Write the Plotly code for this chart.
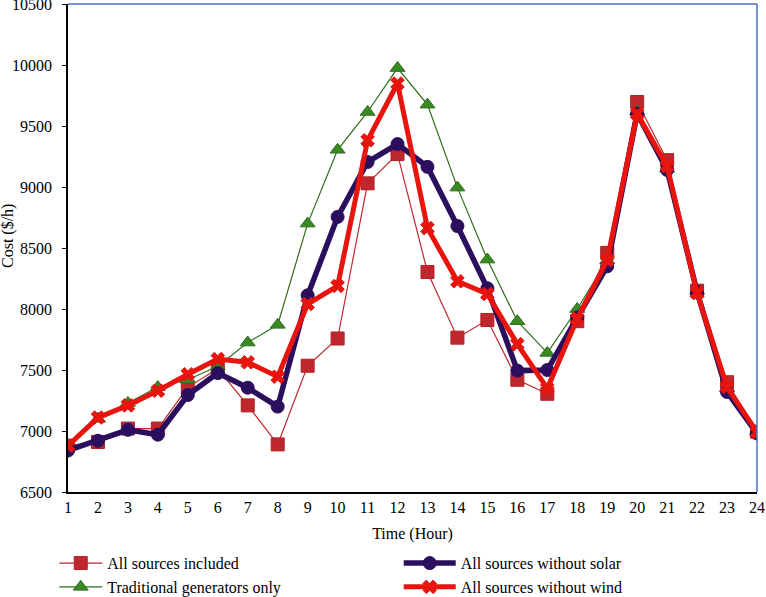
import plotly.graph_objects as go

hours = list(range(1, 25))
all_included = [6880, 6910, 7020, 7020, 7360, 7510, 7210, 6890, 7535, 7758, 9030, 9270, 8303, 7765, 7910, 7420, 7305, 7900, 8460, 9697, 9220, 8150, 7400, 6995]
traditional = [6880, 7100, 7230, 7360, 7420, 7530, 7725, 7870, 8700, 9305, 9615, 9975, 9675, 8995, 8405, 7900, 7640, 8000, 8400, 9620, 9150, 8150, 7350, 7000]
without_solar = [6840, 6920, 7010, 6970, 7295, 7475, 7355, 7200, 8112, 8755, 9205, 9352, 9165, 8680, 8170, 7495, 7500, 7930, 8350, 9600, 9140, 8140, 7320, 6980]
without_wind = [6880, 7110, 7210, 7330, 7465, 7590, 7563, 7445, 8041, 8189, 9383, 9848, 8663, 8227, 8123, 7712, 7350, 7920, 8400, 9600, 9170, 8130, 7360, 6990]
y_ticks = [6500, 7000, 7500, 8000, 8500, 9000, 9500, 10000, 10500]

FONT = "Liberation Serif"
FS = 16

fig = go.Figure()
fig.add_trace(go.Scatter(
    x=hours, y=all_included, name="All sources included", mode="lines+markers",
    line=dict(color="#C0272D", width=1.2),
    marker=dict(symbol="square", size=13, color="#C0272D", line=dict(color="#B02025", width=1)),
    legend="legend"))
fig.add_trace(go.Scatter(
    x=hours, y=traditional, name="Traditional generators only", mode="lines+markers",
    line=dict(color="#2F6B1E", width=1.2),
    marker=dict(symbol="triangle-up", size=13, color="#3A8A24", line=dict(color="#2F6B1E", width=1)),
    legend="legend"))
fig.add_trace(go.Scatter(
    x=hours, y=without_solar, name="All sources without solar", mode="lines+markers",
    line=dict(color="#2C0E5E", width=5.5),
    marker=dict(symbol="circle", size=13, color="#2C0E5E", line=dict(color="#2C0E5E", width=1)),
    legend="legend2"))
fig.add_trace(go.Scatter(
    x=hours, y=without_wind, name="All sources without wind", mode="lines+markers",
    line=dict(color="#E8140E", width=5),
    marker=dict(symbol="x", size=12, color="#E8140E", line=dict(color="#E8140E", width=1)),
    legend="legend2"))

fig.update_layout(
    width=766, height=597,
    margin=dict(l=68, r=9, t=4, b=105, autoexpand=False),
    paper_bgcolor="white", plot_bgcolor="white",
    font=dict(family=FONT, size=FS, color="black"),
    showlegend=True,
    legend=dict(x=-0.020, y=-0.111, xanchor="left", yanchor="top", orientation="v",
                bgcolor="rgba(0,0,0,0)", font=dict(family=FONT, size=FS), tracegroupgap=0,
                itemwidth=43),
    legend2=dict(x=0.480, y=-0.111, xanchor="left", yanchor="top", orientation="v",
                 bgcolor="rgba(0,0,0,0)", font=dict(family=FONT, size=FS), tracegroupgap=0,
                 itemwidth=52),
    xaxis=dict(range=[1, 24], tickmode="array", tickvals=hours, ticktext=[str(h) for h in hours],
               showgrid=False, zeroline=False, showline=True, linecolor="black", linewidth=1.5,
               ticks="", ticklen=0, automargin=False, ticklabeloverflow="allow",
               title=dict(text="Time (Hour)", font=dict(family=FONT, size=FS), standoff=13)),
    yaxis=dict(range=[6500, 10500], tickmode="array", tickvals=y_ticks, ticktext=[str(v) for v in y_ticks],
               showgrid=False, zeroline=False, showline=True, linecolor="black", linewidth=1.5,
               ticks="outside", ticklen=4, tickcolor="black", automargin=False,
               ticklabelstandoff=7, ticklabeloverflow="allow"),
    annotations=[
        dict(text="Cost ($/h)", xref="paper", yref="paper", x=(8 - 68) / 689, y=(492 - 236) / 488,
             xanchor="center", yanchor="middle", textangle=-90, showarrow=False,
             font=dict(family=FONT, size=FS)),
    ],
    shapes=[
        dict(type="line", xref="paper", yref="paper", x0=0, x1=1, y0=1, y1=1,
             line=dict(color="#4472C4", width=1.5), layer="above"),
        dict(type="line", xref="paper", yref="paper", x0=1, x1=1, y0=0, y1=1,
             line=dict(color="#4472C4", width=1.5), layer="above"),
    ],
)

fig.write_html("out.html", config={"displayModeBar": False},
               post_script="document.body.style.margin='0';")
